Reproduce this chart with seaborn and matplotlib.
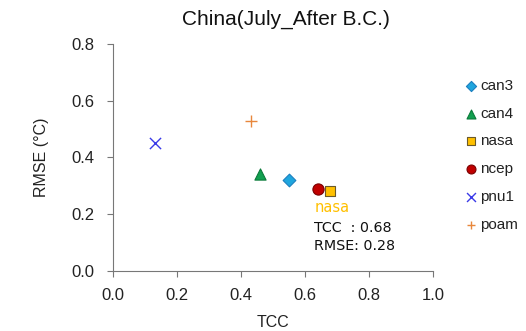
import matplotlib
matplotlib.use("Agg")
import matplotlib.pyplot as plt
import seaborn as sns
import pandas as pd

models = ["can3", "can4", "nasa", "ncep", "pnu1", "poam"]
tcc = [0.55, 0.46, 0.68, 0.64, 0.13, 0.43]
rmse = [0.32, 0.34, 0.28, 0.29, 0.45, 0.53]

x_ticks = [0.0, 0.2, 0.4, 0.6, 0.8, 1.0]
y_ticks = [0.0, 0.2, 0.4, 0.6, 0.8]

highlight = "nasa"

markers = {"can3": "D", "can4": "^", "nasa": "s", "ncep": "o", "pnu1": "x", "poam": "+"}
faces = {"can3": "#1FA6DE", "can4": "#12A050", "nasa": "#FFC000",
         "ncep": "#C00000", "pnu1": "#3A3AE8", "poam": "#E8873C"}
edges = {"can3": "#1B7FBF", "can4": "#0B7A3A", "nasa": "#6B5A2A",
         "ncep": "#7A0000", "pnu1": "#3A3AE8", "poam": "#E8873C"}
sizes = {"can3": 42, "can4": 65, "nasa": 48, "ncep": 65, "pnu1": 65, "poam": 65}

df = pd.DataFrame({"model": models, "TCC": tcc, "RMSE": rmse})

sns.set_style("white")
plt.rcParams["font.family"] = ["Liberation Sans", "DejaVu Sans"]

fig = plt.figure(figsize=(5.26, 3.31), dpi=100)
ax = fig.add_axes([0.2148, 0.182, 0.608, 0.685])

for m in models:
    sub = df[df["model"] == m]
    filled = markers[m] not in ("x", "+")
    kw = dict(edgecolor=edges[m], linewidth=0.8) if filled else dict(linewidth=1.0)
    sns.scatterplot(data=sub, x="TCC", y="RMSE", marker=markers[m],
                    color=faces[m], s=sizes[m], ax=ax, label=m, zorder=3, **kw)

ax.set_xlim(0.0, 1.0)
ax.set_ylim(0.0, 0.8)
ax.set_xticks(x_ticks)
ax.set_yticks(y_ticks)
ax.set_xticklabels([f"{v:.1f}" for v in x_ticks])
ax.set_yticklabels([f"{v:.1f}" for v in y_ticks])
ax.tick_params(axis="both", direction="out", length=4.5, width=0.8, color="#777777",
               labelsize=12, labelcolor="#222222", left=True, bottom=True)
ax.tick_params(axis="x", pad=8)
ax.tick_params(axis="y", pad=9)
for side in ["top", "right"]:
    ax.spines[side].set_visible(False)
for side in ["left", "bottom"]:
    ax.spines[side].set_color("#777777")
    ax.spines[side].set_linewidth(0.8)

ax.set_xlabel("TCC", fontsize=11.5, color="#222222")
ax.set_ylabel("RMSE (°C)", fontsize=11.5, color="#222222")
ax.xaxis.set_label_coords(0.5, -0.228)
ax.yaxis.set_label_coords(-0.225, 0.5)
ax.xaxis.label.set_va("center")
ax.yaxis.label.set_va("center")

fig.text(0.544, 0.94, "China(July_After B.C.)", ha="center", va="center",
         fontsize=15, color="#111111")

# Value box for the highlighted model
i = models.index(highlight)
ax.annotate(highlight, xy=(tcc[i], rmse[i]), xytext=(-11.5, -11.5), textcoords="offset points",
            color="#FFC000", fontsize=10.5, family="DejaVu Sans", va="center", ha="left")
ax.annotate(f"TCC  : {tcc[i]:.2f}", xy=(tcc[i], rmse[i]), xytext=(-11.5, -26.5),
            textcoords="offset points", color="#111111", fontsize=10.3,
            family="DejaVu Sans", va="center", ha="left")
ax.annotate(f"RMSE: {rmse[i]:.2f}", xy=(tcc[i], rmse[i]), xytext=(-11.5, -39.5),
            textcoords="offset points", color="#111111", fontsize=10.3,
            family="DejaVu Sans", va="center", ha="left")

leg = ax.legend(loc="upper left", bbox_to_anchor=(0.869, 0.78), bbox_transform=fig.transFigure,
                frameon=False, fontsize=11, labelspacing=0.9, handletextpad=0.1,
                handlelength=1.0, borderaxespad=0, markerscale=0.8)
for t in leg.get_texts():
    t.set_color("#222222")

fig.savefig("out.png", dpi=100)
